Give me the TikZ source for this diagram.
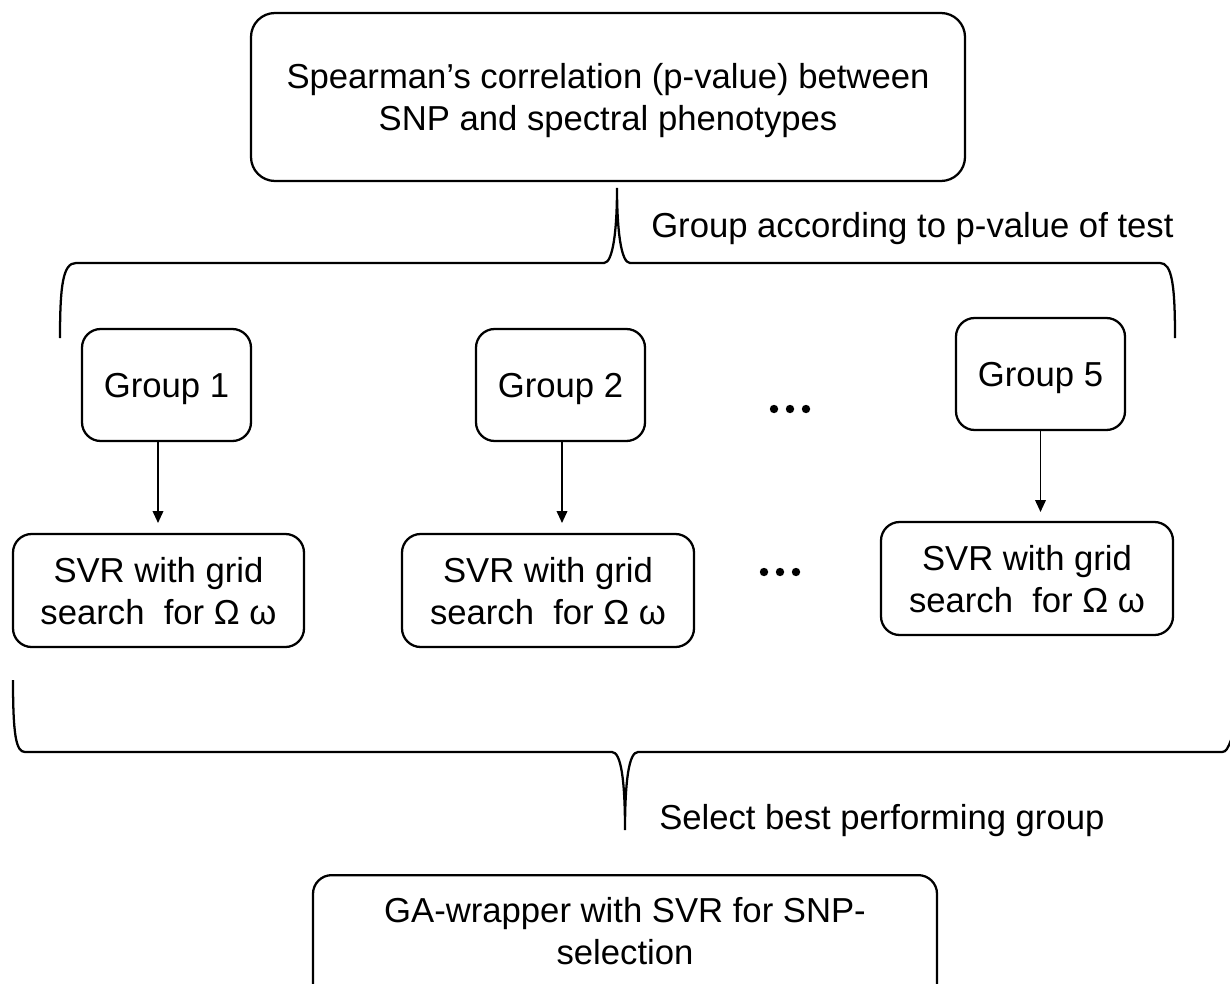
\documentclass[tikz,border=0pt]{standalone}
\usepackage{fontspec}
\setmainfont{Liberation Sans}
\usetikzlibrary{arrows.meta}
\begin{document}
\begin{tikzpicture}[x=0.75pt,y=-0.75pt,
  box/.style={draw,line width=1.7pt,rounded corners=14pt,align=center,inner sep=0pt,text depth=0pt,font=\fontsize{26}{31.5}\selectfont},
  txt/.style={align=center,inner sep=0pt,font=\fontsize{26}{31}\selectfont},
  lbl/.style={anchor=west,inner sep=0pt,font=\fontsize{26}{31.5}\selectfont},
  brace/.style={line width=1.7pt},
  arr/.style={line width=1.2pt,-{Triangle[length=9pt,width=8pt]}}]
\useasboundingbox (0,0) rectangle (1230,984);
\node[box,rounded corners=18pt,minimum width=714*0.75pt,minimum height=168*0.75pt] (top) at (608,97) {Spearman’s correlation (p-value) between\\SNP and spectral phenotypes};
\node[box,minimum width=169*0.75pt,minimum height=112*0.75pt] (g1) at (166.5,385) {Group 1};
\node[box,minimum width=169*0.75pt,minimum height=112*0.75pt] (g2) at (560.5,385) {Group 2};
\node[box,minimum width=169*0.75pt,minimum height=112*0.75pt] (g5) at (1040.5,374) {Group 5};
\node[box,minimum width=291*0.75pt,minimum height=113*0.75pt] (s1) at (158.5,590.5) {SVR with grid\\search\ \ for Ω ω};
\node[box,minimum width=292*0.75pt,minimum height=113*0.75pt] (s2) at (548,590.5) {SVR with grid\\search\ \ for Ω ω};
\node[box,minimum width=292*0.75pt,minimum height=113*0.75pt] (s5) at (1027,578.5) {SVR with grid\\search\ \ for Ω ω};
\node[box,minimum width=624*0.75pt,minimum height=130*0.75pt,anchor=north] (ga) at (625,874) {};
\node[txt] (gat) at (625,931) {GA-wrapper with SVR for SNP-\\selection};
\foreach \x in {774,790,806} \fill (\x,409) circle (4.2);
\foreach \x in {764,780,796} \fill (\x,572) circle (4.2);
\node[lbl] (t1) at (651,229) {Group according to p-value of test};
\node[lbl] (t2) at (659,821) {Select best performing group};
\coordinate (tipA) at (617,188);
\coordinate (tipB) at (625,830);
\draw[brace] (60,338) .. controls (60,285) and (63,263) .. (76,263) -- (604,263) .. controls (613,263) and (617,230) .. (tipA)
  .. controls (617,230) and (621,263) .. (630,263) -- (1160,263) .. controls (1172,263) and (1175,285) .. (1175,338);
\draw[brace] (13,680) .. controls (13,735) and (16,752) .. (25,752) -- (612,752) .. controls (621,752) and (625,780) .. (tipB)
  .. controls (625,780) and (629,752) .. (638,752) -- (1222,752) .. controls (1226,752) and (1228,748) .. (1231,740);
\draw[arr] (g1.south -| 158,0) -- (158,523);
\draw[arr] (g2.south -| 562,0) -- (562,523);
\draw[arr] (g5.south) -- (1040.5,512);
\end{tikzpicture}
\end{document}
